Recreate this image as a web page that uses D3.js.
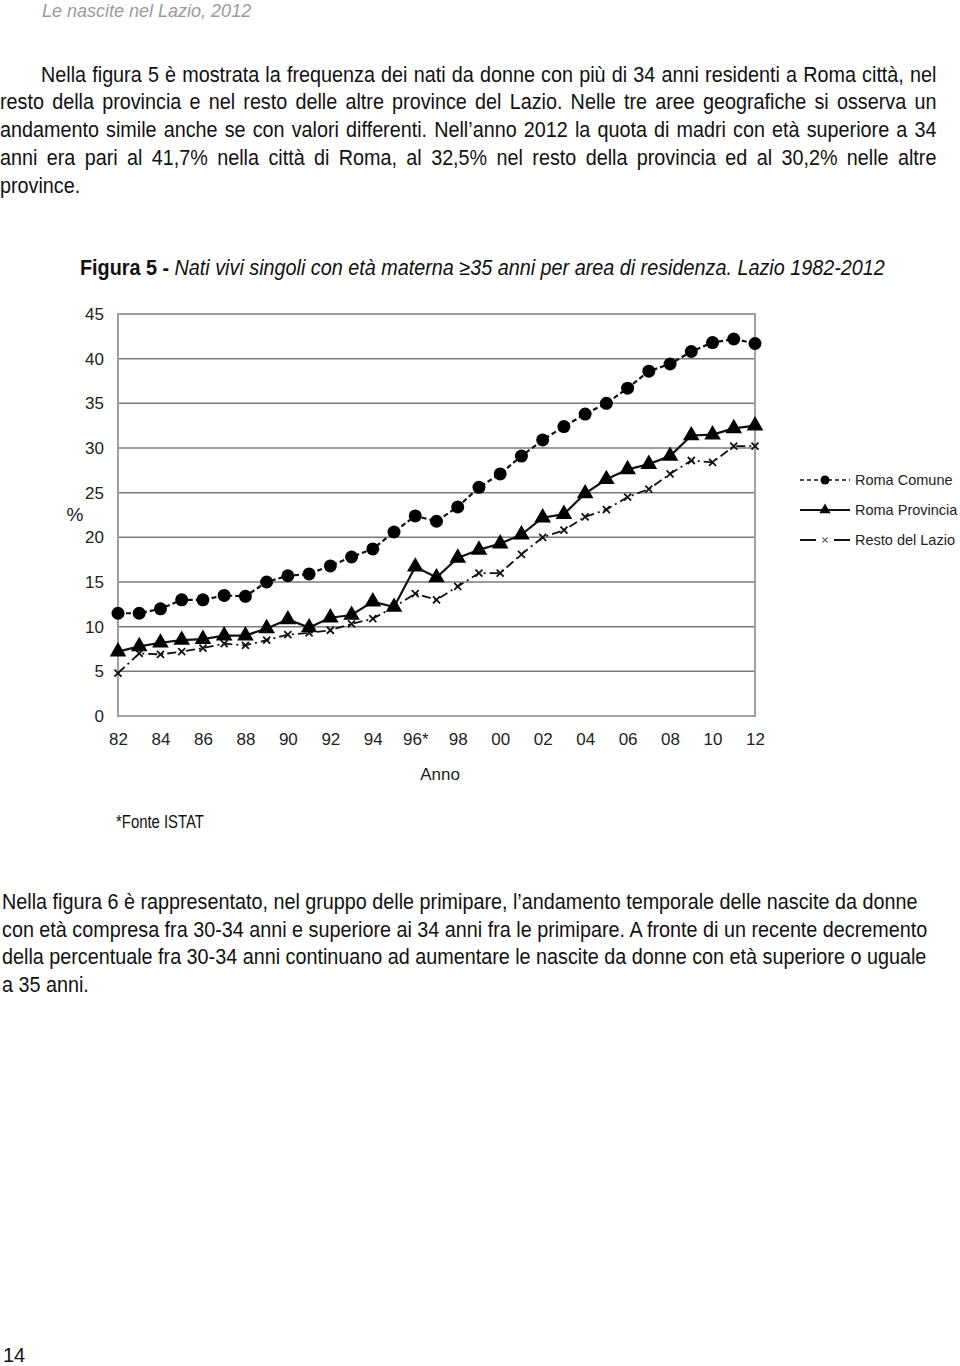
<!DOCTYPE html>
<html><head><meta charset="utf-8">
<script src="https://cdn.jsdelivr.net/npm/d3@7"></script>
<style>
body{margin:0;background:#fff;width:960px;height:1366px;overflow:hidden}
svg{position:absolute;left:0;top:0}
</style></head><body>
<svg id="chart" width="960" height="1366"></svg>
<script>
const years = ["82","83","84","85","86","87","88","89","90","91","92","93","94","95","96*","97","98","99","00","01","02","03","04","05","06","07","08","09","10","11","12"];
const tickYears = ["82","84","86","88","90","92","94","96*","98","00","02","04","06","08","10","12"];
const romaComune = [11.5,11.5,12.0,13.0,13.0,13.5,13.4,15.0,15.7,15.9,16.8,17.8,18.7,20.6,22.4,21.8,23.4,25.6,27.1,29.1,30.9,32.4,33.8,35.0,36.7,38.6,39.4,40.8,41.8,42.2,41.7];
const romaProvincia = [7.2,7.8,8.2,8.5,8.6,9.0,9.0,9.8,10.8,9.9,11.0,11.3,12.8,12.2,16.7,15.5,17.7,18.6,19.3,20.3,22.2,22.6,24.9,26.5,27.6,28.2,29.1,31.4,31.5,32.2,32.5];
const restoLazio = [4.8,7.0,6.9,7.2,7.6,8.1,7.9,8.5,9.1,9.3,9.6,10.3,10.9,12.2,13.7,13.0,14.5,16.0,16.0,18.1,20.0,20.8,22.3,23.1,24.5,25.4,27.1,28.6,28.4,30.2,30.2];
const yTicks = [0,5,10,15,20,25,30,35,40,45];
const seriesNames = ["Roma Comune","Roma Provincia","Resto del Lazio"];

const para1 = [
 "Nella figura 5 è mostrata la frequenza dei nati da donne con più di 34 anni residenti a Roma città, nel",
 "resto della provincia e nel resto delle altre province del Lazio. Nelle tre aree geografiche si osserva un",
 "andamento simile anche se con valori differenti. Nell’anno 2012 la quota di madri con età superiore a 34",
 "anni era pari al 41,7% nella città di Roma, al 32,5% nel resto della provincia ed al 30,2% nelle altre",
 "province."
];
const para2 = [
 "Nella figura 6 è rappresentato, nel gruppo delle primipare, l’andamento temporale delle nascite da donne",
 "con età compresa fra 30-34 anni e superiore ai 34 anni fra le primipare. A fronte di un recente decremento",
 "della percentuale fra 30-34 anni continuano ad aumentare le nascite da donne con età superiore o uguale",
 "a 35 anni."
];

const svg = d3.select("#chart");
const sans = "'Liberation Sans', Arial, sans-serif";
const FS = 22;

// Helper: condensed text line
function textLine(str, x, y, k, opts={}){
  const g = svg.append("g");
  const t = g.append("text").attr("x",0).attr("y",0).attr("font-family",sans)
    .attr("font-size",opts.size||FS).attr("fill",opts.fill||"#111").text(str);
  if(opts.italic) t.attr("font-style","italic");
  const nat = t.node().getComputedTextLength();
  if(opts.justify){
    const spaces = (str.match(/ /g)||[]).length;
    const extra = (opts.justify/k - nat)/spaces;
    t.attr("word-spacing", extra);
  }
  g.attr("transform",`translate(${x},${y}) scale(${k},1)`);
  return nat;
}
// compression factor from a non-justified reference line (width 916px)
const probe = svg.append("text").attr("font-family",sans).attr("font-size",FS).text(para2[0]);
const K = 916/probe.node().getComputedTextLength();
probe.remove();

// header
svg.append("text").attr("x",42).attr("y",17).attr("font-family",sans).attr("font-size",18)
 .attr("font-style","italic").attr("fill","#9a9a9a").text("Le nascite nel Lazio, 2012");

const p1y = [81.5,109.3,137.1,164.9,192.7];
para1.forEach((s,i)=>{
  const x0 = i===0?41:0;
  textLine(s, x0, p1y[i], K, i<4?{justify:937-x0}:{});
});
const p2y = [909,936.7,964.3,992];
para2.forEach((s,i)=>textLine(s, 2, p2y[i], K));

// Title
{
  const g = svg.append("g");
  const title = g.append("text").attr("font-family",sans).attr("font-size",21.5).attr("fill","#111");
  title.append("tspan").attr("font-weight","bold").text("Figura 5 - ");
  title.append("tspan").attr("font-style","italic").text("Nati vivi singoli con età materna ≥35 anni per area di residenza. Lazio 1982-2012");
  const w = title.node().getBBox().width;
  g.attr("transform",`translate(80,275) scale(${805/w},1)`);
}

const x = d3.scalePoint().domain(years).range([118,755]);
const y = d3.scaleLinear().domain([0,45]).range([716,314]);

const g = svg.append("g");
g.selectAll("line.grid").data(yTicks.filter(d=>d>0 && d<45)).enter().append("line")
 .attr("x1",118).attr("x2",755).attr("y1",d=>y(d)).attr("y2",d=>y(d))
 .attr("stroke","#7a7a7a").attr("stroke-width",1.5);
g.append("rect").attr("x",118).attr("y",y(45)).attr("width",755-118).attr("height",y(0)-y(45))
 .attr("fill","none").attr("stroke","#a0a0a0").attr("stroke-width",2);

const ya = g.append("g").attr("transform","translate(118,0)").call(d3.axisLeft(y).tickValues(yTicks).tickSize(0).tickPadding(14));
ya.select(".domain").remove();
ya.selectAll("text").attr("font-family",sans).attr("font-size",17).attr("fill","#222");

const xa = g.append("g").attr("transform","translate(0,716)").call(d3.axisBottom(x).tickValues(tickYears).tickSize(0).tickPadding(17));
xa.select(".domain").remove();
xa.selectAll("text").attr("font-family",sans).attr("font-size",17).attr("fill","#222");

svg.append("text").attr("x",75).attr("y",521).attr("text-anchor","middle").attr("font-family",sans).attr("font-size",19).attr("fill","#222").text("%");
svg.append("text").attr("x",440).attr("y",780).attr("text-anchor","middle").attr("font-family",sans).attr("font-size",17).attr("fill","#222").text("Anno");

const line = d3.line().x((d,i)=>x(years[i])).y(d=>y(d));

svg.append("path").datum(restoLazio).attr("d",line).attr("fill","none").attr("stroke","#111").attr("stroke-width",1.8).attr("stroke-dasharray","9,4,2,4");
svg.append("path").datum(romaProvincia).attr("d",line).attr("fill","none").attr("stroke","#111").attr("stroke-width",2.2);
svg.append("path").datum(romaComune).attr("d",line).attr("fill","none").attr("stroke","#111").attr("stroke-width",2.2).attr("stroke-dasharray","5,3");

const cross = (s)=>`M${-s},${-s}L${s},${s}M${-s},${s}L${s},${-s}`;
svg.append("g").selectAll("path").data(restoLazio).enter().append("path")
 .attr("transform",(d,i)=>`translate(${x(years[i])},${y(d)})`).attr("d",cross(3.5)).attr("stroke","#111").attr("stroke-width",1.8);
const tri = d3.symbol().type(d3.symbolTriangle).size(120);
svg.append("g").selectAll("path").data(romaProvincia).enter().append("path")
 .attr("transform",(d,i)=>`translate(${x(years[i])},${y(d)})`).attr("d",tri).attr("fill","#000");
svg.append("g").selectAll("circle").data(romaComune).enter().append("circle")
 .attr("cx",(d,i)=>x(years[i])).attr("cy",d=>y(d)).attr("r",6.5).attr("fill","#000");

const leg = svg.append("g").attr("transform","translate(800,480)");
seriesNames.forEach((n,i)=>{
  const lg = leg.append("g").attr("transform",`translate(0,${i*30})`);
  if(i===0){
    lg.append("line").attr("x1",0).attr("x2",50).attr("stroke","#111").attr("stroke-width",1.6).attr("stroke-dasharray","4,3");
    lg.append("circle").attr("cx",25).attr("r",4.5).attr("fill","#000");
  } else if(i===1){
    lg.append("line").attr("x1",0).attr("x2",50).attr("stroke","#111").attr("stroke-width",2);
    lg.append("path").attr("transform","translate(25,0)").attr("d",d3.symbol().type(d3.symbolTriangle).size(55)).attr("fill","#000");
  } else {
    lg.append("line").attr("x1",0).attr("x2",16).attr("stroke","#111").attr("stroke-width",2);
    lg.append("line").attr("x1",34).attr("x2",50).attr("stroke","#111").attr("stroke-width",2);
    lg.append("path").attr("transform","translate(25,0)").attr("d",cross(2.5)).attr("stroke","#666").attr("stroke-width",1.2);
  }
  lg.append("text").attr("x",55).attr("y",5).attr("font-family",sans).attr("font-size",14.5).attr("fill","#222").text(n);
});

// footnote and page number
{
  const gg = svg.append("g");
  const t = gg.append("text").attr("font-family",sans).attr("font-size",18.5).attr("fill","#111").text("*Fonte ISTAT");
  const w = t.node().getComputedTextLength();
  gg.attr("transform",`translate(116,828) scale(${88/w},1)`);
}
svg.append("text").attr("x",3).attr("y",1362).attr("font-family",sans).attr("font-size",20).attr("fill","#111").text("14");
</script>
</body></html>
